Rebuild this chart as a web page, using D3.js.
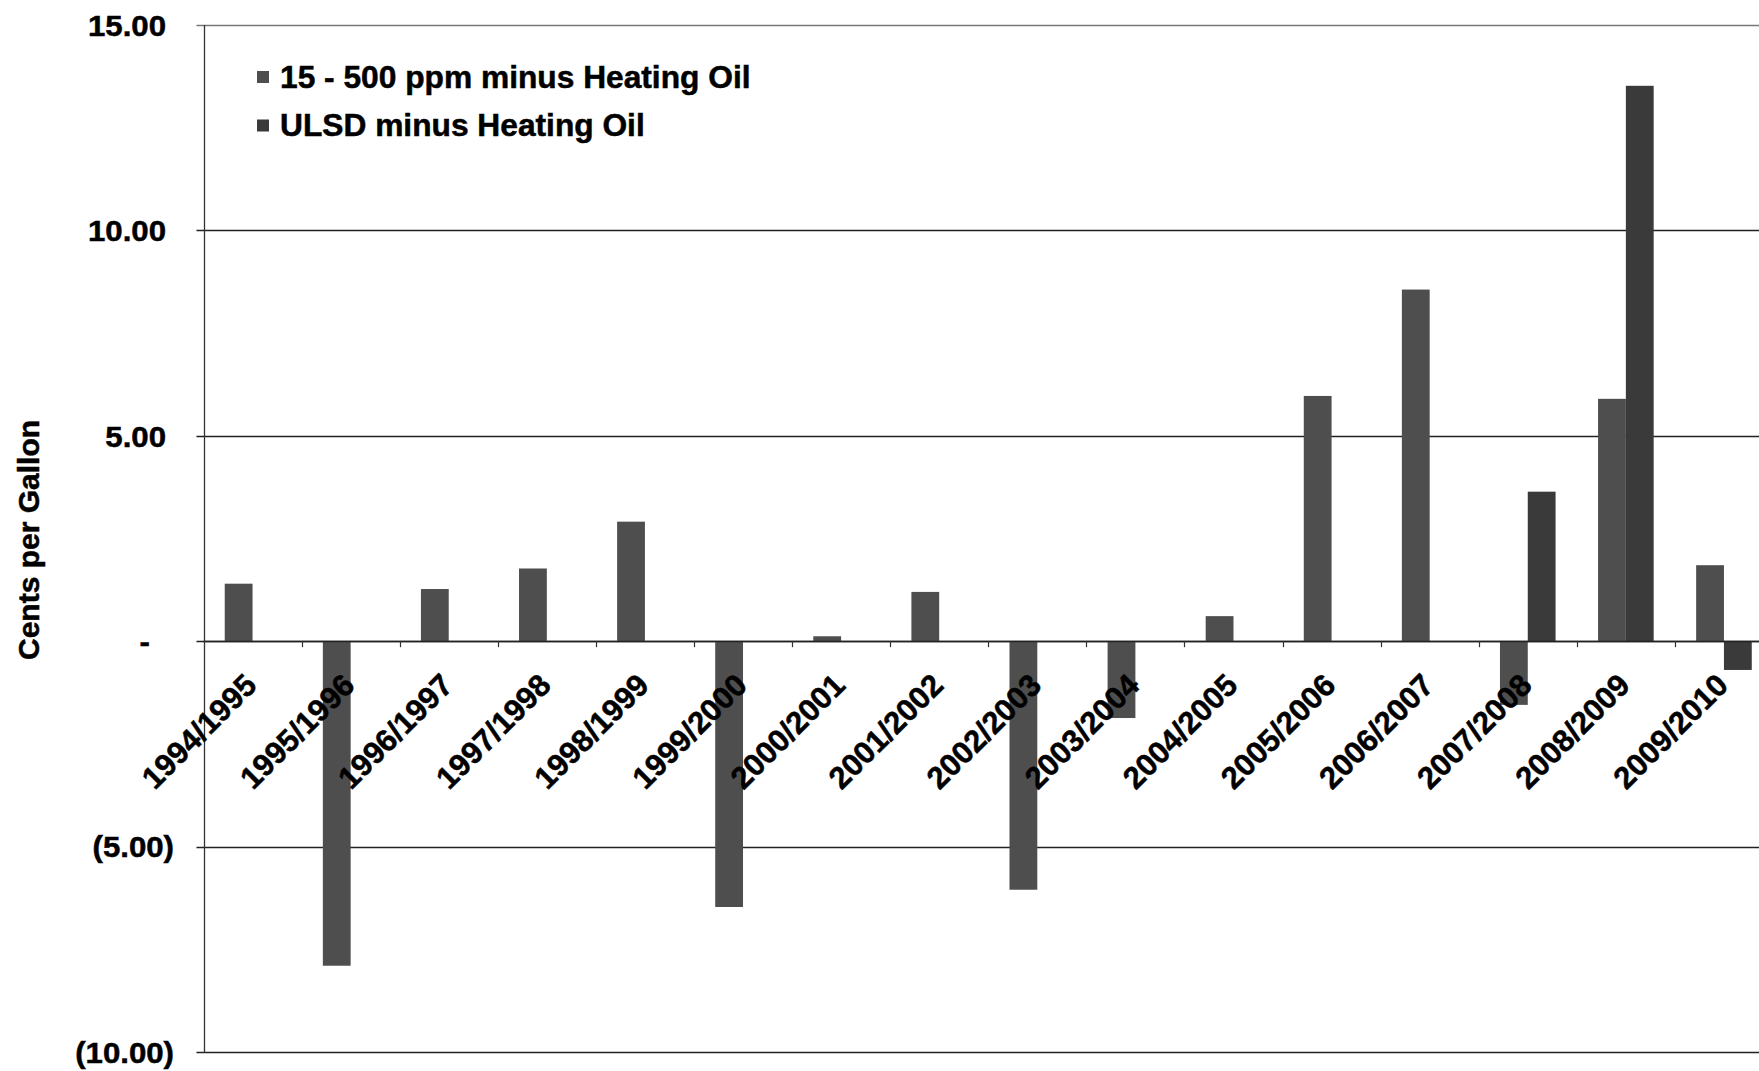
<!DOCTYPE html>
<html>
<head>
<meta charset="utf-8">
<script src="https://cdn.jsdelivr.net/npm/d3@7"></script>
<style>
  html, body { margin: 0; padding: 0; background: #ffffff; }
  svg { display: block; }
  text { font-family: "Liberation Sans", Arial, sans-serif; font-weight: bold; fill: #000; stroke: #000; stroke-width: 0.5px; }
</style>
</head>
<body>
<script>
// ---------------- data ----------------
const categories = ["1994/1995","1995/1996","1996/1997","1997/1998","1998/1999","1999/2000","2000/2001","2001/2002",
                    "2002/2003","2003/2004","2004/2005","2005/2006","2006/2007","2007/2008","2008/2009","2009/2010"];
const seriesNames = ["15 - 500 ppm minus Heating Oil", "ULSD minus Heating Oil"];
const ppmValues  = [1.40, -7.90, 1.27, 1.77, 2.91, -6.47, 0.12, 1.20, -6.05, -1.87, 0.61, 5.97, 8.56, -1.55, 5.90, 1.85];
const ulsdValues = [null, null, null, null, null, null, null, null, null, null, null, null, null, 3.64, 13.52, -0.70];
const yTicks = [15, 10, 5, 0, -5, -10];
const yTickLabels = ["15.00", "10.00", "5.00", "-", "(5.00)", "(10.00)"];
const yAxisTitle = "Cents per Gallon";

// ---------------- layout ----------------
const W = 1759, H = 1071;
const plotLeft = 203.5, plotRight = 1773, plotTop = 25, plotBottom = 1052;
const colors = ["#4e4e4e", "#3a3a3a"];

const svg = d3.select("body").append("svg").attr("width", W).attr("height", H);

const y = d3.scaleLinear().domain([-10, 15]).range([plotBottom, plotTop]);
const x0 = d3.scaleBand().domain(categories).range([plotLeft, plotRight]).paddingInner(0).paddingOuter(0);
const x1 = d3.scaleBand().domain([0, 1]).range([0, x0.bandwidth()]).paddingInner(0).paddingOuter(0.764);

// gridlines
svg.append("g").selectAll("line").data(yTicks).join("line")
  .attr("x1", plotLeft - 7).attr("x2", W)
  .attr("y1", d => Math.round(y(d)) + 0.5).attr("y2", d => Math.round(y(d)) + 0.5)
  .attr("stroke", d => d === 15 ? "#777" : "#222")
  .attr("stroke-width", 1.3);

// bars
const rows = [];
categories.forEach((c, i) => {
  [ppmValues[i], ulsdValues[i]].forEach((v, s) => {
    if (v !== null && v !== undefined) rows.push({ c, s, v });
  });
});
svg.append("g").selectAll("rect").data(rows).join("rect")
  .attr("x", d => x0(d.c) + x1(d.s))
  .attr("width", x1.bandwidth())
  .attr("y", d => y(Math.max(0, d.v)))
  .attr("height", d => Math.abs(y(d.v) - y(0)))
  .attr("fill", d => colors[d.s]);

// zero line on top
svg.append("line")
  .attr("x1", plotLeft).attr("x2", W)
  .attr("y1", Math.round(y(0)) + 0.5).attr("y2", Math.round(y(0)) + 0.5)
  .attr("stroke", "#222").attr("stroke-width", 1.3);

// x category tick marks (at boundaries)
svg.append("g").selectAll("line").data(categories).join("line")
  .attr("x1", d => Math.round(x0(d) + x0.step()) + 0.5)
  .attr("x2", d => Math.round(x0(d) + x0.step()) + 0.5)
  .attr("y1", y(0)).attr("y2", y(0) + 6)
  .attr("stroke", "#333").attr("stroke-width", 1.2);

// y axis line
svg.append("line")
  .attr("x1", Math.round(plotLeft) + 0.5).attr("x2", Math.round(plotLeft) + 0.5)
  .attr("y1", plotTop).attr("y2", plotBottom + 1)
  .attr("stroke", "#333").attr("stroke-width", 1.3);

// y tick labels
svg.append("g").selectAll("text").data(yTicks).join("text")
  .attr("transform", d => {
    const xe = d > 0 ? 166 : (d < 0 ? 174 : 150);
    return `translate(${xe},${y(d)}) scale(1.04,1)`;
  })
  .attr("text-anchor", "end")
  .attr("dy", "0.36em")
  .attr("font-size", 30)
  .text((d, i) => yTickLabels[i]);

// y axis title
svg.append("text")
  .attr("transform", `translate(28,540) rotate(-90)`)
  .attr("text-anchor", "middle")
  .attr("dy", "0.36em")
  .attr("font-size", 30)
  .text(yAxisTitle);

// x labels
svg.append("g").selectAll("text").data(categories).join("text")
  .attr("transform", d => `translate(${x0(d) + x0.bandwidth() / 2 - 2},${y(0) + 38}) rotate(-45)`)
  .attr("text-anchor", "end")
  .attr("dy", "0.36em")
  .attr("font-size", 31)
  .text(d => d);

// legend
const legend = svg.append("g").selectAll("g").data(seriesNames).join("g")
  .attr("transform", (d, i) => `translate(257,${77 + i * 48.5})`);
legend.append("rect")
  .attr("x", 0).attr("y", -6).attr("width", 12).attr("height", 12)
  .attr("fill", (d, i) => colors[i]);
legend.append("text")
  .attr("transform", `translate(23,0) scale(1.04,1)`)
  .attr("dy", "0.36em")
  .attr("font-size", 30.5)
  .text(d => d);
</script>
</body>
</html>
